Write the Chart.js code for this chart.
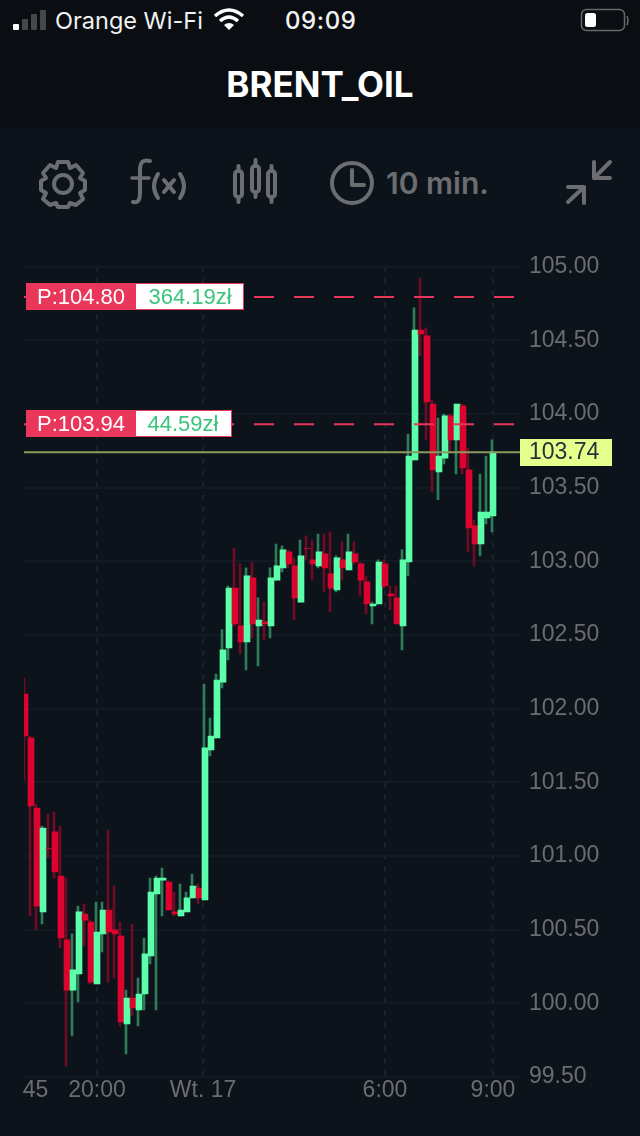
<!DOCTYPE html>
<html>
<head>
<meta charset="utf-8">
<title>BRENT_OIL</title>
<script src="https://cdn.jsdelivr.net/npm/chart.js@4/dist/chart.umd.min.js"></script>
<style>
  html, body { margin: 0; padding: 0; background: #0d131b; }
  #page { position: relative; width: 640px; height: 1136px; overflow: hidden; background: #0d131b; }
  #header { position: absolute; left: 0; top: 0; width: 640px; height: 128px; background: #0a0e12; }
  .txt { position: absolute; white-space: nowrap; font-family: Inter, "Liberation Sans", sans-serif; }
  svg { position: absolute; overflow: visible; }
  canvas { position: absolute; left: 0; top: 0; }
</style>
</head>
<body>
<div id="page">
  <div id="header"></div>

  <!-- status bar -->
  <svg style="left:0;top:0" width="640" height="40">
    <rect x="13" y="24" width="6" height="6" rx="1" fill="#fff"/>
    <rect x="22" y="19" width="6" height="11" rx="1" fill="#45484b"/>
    <rect x="31" y="14" width="6" height="16" rx="1" fill="#45484b"/>
    <rect x="40" y="10" width="6" height="20" rx="1" fill="#45484b"/>
    <path d="M215 16 Q229 4 243 16" fill="none" stroke="#fff" stroke-width="3.4"/>
    <path d="M220 21 Q229 13 238 21" fill="none" stroke="#fff" stroke-width="3.4"/>
    <path d="M224 25 L229 30 L234 25 Q229 21 224 25 Z" fill="#fff"/>
    <rect x="581.5" y="9.5" width="43" height="21" rx="5" fill="none" stroke="#66696c" stroke-width="1.5"/>
    <rect x="585" y="13" width="11" height="14" rx="2.5" fill="#fff"/>
    <path d="M627 16 Q629 20 627 25" fill="none" stroke="#66696c" stroke-width="1.5"/>
  </svg>
  <div class="txt" style="left:55px;top:6px;font-size:23.5px;line-height:30px;color:#f2f2f2">Orange Wi-Fi</div>
  <div class="txt" style="left:285px;top:6px;font-size:24px;line-height:30px;letter-spacing:0.6px;font-weight:500;color:#f2f2f2">09:09</div>
  <div class="txt" style="left:0;top:64px;width:640px;text-align:center;font-size:35px;line-height:40px;font-weight:700;color:#fff">BRENT_OIL</div>

  <!-- toolbar -->
  <svg style="left:0;top:128px" width="640" height="100" fill="none" stroke="#6b6d71" stroke-width="4" stroke-linecap="round" stroke-linejoin="round">
    <path d="M58 34 L68 34 L70 40 L76 37 L83 45 L80 50 L85 53 L85 62 L80 65 L83 71 L76 77 L70 75 L68 79 L58 79 L56 75 L50 77 L43 71 L46 65 L41 62 L41 53 L46 50 L43 45 L50 37 L56 40 Z"/>
    <circle cx="63" cy="56" r="9"/>
    <path d="M150 33 Q140 30 140 42 L140 65 Q140 76 133 74"/>
    <path d="M132 50 L149 50" stroke-width="3.5"/>
    <path d="M158 46 Q150 58 158 70"/>
    <path d="M180 46 Q188 58 180 70"/>
    <path d="M164 52 L174 64 M174 52 L164 64"/>
    <rect x="235" y="43" width="7" height="26" rx="3"/>
    <path d="M238.5 38 L238.5 43 M238.5 69 L238.5 74"/>
    <rect x="252" y="38" width="7" height="26" rx="3"/>
    <path d="M255.5 32 L255.5 38 M255.5 64 L255.5 69"/>
    <rect x="268" y="43" width="7" height="26" rx="3"/>
    <path d="M271.5 38 L271.5 43 M271.5 69 L271.5 74"/>
    <circle cx="352" cy="55" r="20"/>
    <path d="M352 42 L352 57 L364 57"/>
    <path d="M610 34 L594 50 M594 34 L594 50 L610 50"/>
    <path d="M568 74 L584 59 M568 59 L584 59 L584 75"/>
  </svg>
  <div class="txt" style="left:386px;top:165px;font-size:30px;line-height:36px;font-weight:600;color:#6b6d71">10 min.</div>

  <canvas id="chart" width="640" height="1136"></canvas>
</div>

<script>
'use strict';

// prices, one candle every 10 minutes
var opens = [
  102.099, 101.801, 101.325, 100.620, 101.05, 101.163, 100.864, 100.430, 100.090, 100.199,
  100.606, 100.552, 100.131, 100.471, 100.633, 100.498, 100.457, 99.860, 100.036, 99.955,
  100.063, 100.322, 100.742, 100.836, 100.823, 100.620, 100.593, 100.620, 100.715, 100.782,
  100.701, 101.719, 101.801, 102.180, 102.412, 102.818, 102.561, 102.452, 102.887, 102.561,
  102.588, 102.561, 102.872, 102.955, 103.063, 102.968, 102.723, 103.086, 103.009, 102.968,
  103.050, 102.914, 102.805, 103.009, 102.941, 103.050, 102.982, 102.860, 102.696, 102.710,
  102.982, 102.778, 102.751, 102.561, 102.996, 103.687, 104.569, 104.529, 104.067, 103.606,
  103.700, 103.986, 103.823, 104.054, 103.620, 103.240, 103.118, 103.294, 103.307
];
var closes = [
  101.814, 101.339, 100.660, 101.190, 101.05, 100.891, 100.443, 100.090, 100.227, 100.620,
  100.565, 100.144, 100.484, 100.633, 100.484, 100.471, 99.873, 100.036, 99.968, 100.063,
  100.335, 100.755, 100.850, 100.850, 100.633, 100.606, 100.633, 100.715, 100.796, 100.715,
  101.733, 101.814, 102.193, 102.398, 102.818, 102.574, 102.452, 102.901, 102.574, 102.601,
  102.574, 102.887, 102.968, 103.077, 102.982, 102.751, 103.036, 103.086, 102.982, 103.063,
  102.955, 102.818, 103.023, 102.955, 103.063, 102.995, 102.872, 102.710, 102.710, 102.995,
  102.832, 102.764, 102.574, 103.009, 103.714, 104.569, 104.542, 104.081, 103.620, 103.714,
  103.986, 103.823, 104.067, 103.634, 103.226, 103.118, 103.334, 103.334, 103.741
];
var highs = [
  102.207, 101.814, 101.352, 101.203, 101.285, 101.298, 101.203, 100.850, 100.471, 100.660,
  100.674, 100.565, 100.687, 100.687, 101.176, 100.796, 100.552, 100.090, 100.538, 100.171,
  100.443, 100.850, 100.864, 100.918, 100.836, 100.755, 100.809, 100.755, 100.877, 100.809,
  102.166, 101.936, 102.234, 102.534, 102.832, 103.090, 102.982, 102.955, 102.995, 102.751,
  102.723, 102.955, 103.117, 103.104, 103.077, 103.023, 103.144, 103.172, 103.144, 103.185,
  103.185, 103.199, 103.036, 103.131, 103.185, 103.131, 102.995, 102.901, 102.723, 103.009,
  103.009, 102.832, 102.832, 103.077, 103.863, 104.719, 104.922, 104.583, 104.094, 103.972,
  103.999, 103.999, 104.067, 104.067, 103.768, 103.280, 103.592, 103.714, 103.823
];
var lows = [
  101.515, 100.593, 100.498, 100.538, 100.986, 100.850, 100.376, 99.575, 99.779, 100.009,
  100.389, 100.131, 100.131, 100.349, 100.144, 100.171, 99.846, 99.657, 99.914, 99.846,
  99.955, 100.267, 99.955, 100.593, 100.633, 100.593, 100.593, 100.620, 100.715, 100.674,
  100.701, 101.679, 101.801, 102.140, 102.330, 102.561, 102.371, 102.263, 102.480, 102.290,
  102.466, 102.480, 102.872, 102.928, 102.955, 102.601, 102.723, 103.009, 102.872, 102.955,
  102.791, 102.656, 102.791, 102.872, 102.941, 102.982, 102.764, 102.642, 102.574, 102.710,
  102.818, 102.669, 102.574, 102.398, 102.901, 103.687, 104.393, 103.823, 103.471, 103.417,
  103.660, 103.741, 103.592, 103.592, 103.063, 102.969, 103.036, 103.253, 103.199
];

var timeTicks = [1.75, 12, 29.67, 60, 78];
var timeLabels = ['45', '20:00', 'Wt. 17', '6:00', '9:00'];

var orderLevels = [104.793, 103.93];
var orderLabels = ['P:104.80', 'P:103.94'];
var orderProfits = ['364.19zł', '44.59zł'];
var lastPrice = 103.74;

var GREEN = '#5cffaa';
var RED = '#dc042f';
var GREEN_WICK = '#2c7d58';
var RED_WICK = '#6d0c24';
var AXIS_TEXT = '#6b6d71';
var FONT = '"Liberation Sans", sans-serif';

var bodies = [];
var wicks = [];
var bodyColors = [];
var wickColors = [];

for (var i = 0; i < opens.length; i++) {
  var up = closes[i] > opens[i];
  bodies.push({x: i, y: [opens[i], closes[i]]});
  wicks.push({x: i, y: [lows[i], highs[i]]});
  bodyColors.push(up ? GREEN : RED);
  wickColors.push(up ? GREEN_WICK : RED_WICK);
}

function flatLine(price) {
  return [{x: -1, y: price}, {x: 83, y: price}];
}

// order tags and the last price box sit on top of the candles
var tagsPlugin = {
  id: 'tags',
  afterDraw: function (chart) {
    var c = chart.ctx;
    var y = chart.scales.y;
    var whiteWidths = [108, 96];

    c.save();
    c.textBaseline = 'middle';
    c.font = '22px ' + FONT;

    for (var t = 0; t < orderLevels.length; t++) {
      var py = Math.round(y.getPixelForValue(orderLevels[t]));
      c.fillStyle = '#e8375b';
      c.fillRect(26, py - 14, 110 + whiteWidths[t], 27);
      c.fillStyle = '#fff';
      c.fillRect(136, py - 13, whiteWidths[t] - 1, 25);
      c.textAlign = 'center';
      c.fillStyle = '#fff';
      c.fillText(orderLabels[t], 81, py + 1);
      c.fillStyle = '#3cc47c';
      c.fillText(orderProfits[t], 136 + (t === 0 ? 54 : 47), py + 1);
    }

    var ly = Math.round(y.getPixelForValue(lastPrice));
    c.fillStyle = '#e6ff8c';
    c.fillRect(520, ly - 13, 92, 27);
    c.fillStyle = '#2b3038';
    c.textAlign = 'left';
    c.font = '23px ' + FONT;
    c.fillText(lastPrice.toFixed(2), 529, ly + 1);
    c.restore();
  }
};

var ctx = document.getElementById('chart').getContext('2d');

new Chart(ctx, {
  type: 'bar',
  data: {
    datasets: [
      {
        type: 'line',
        data: flatLine(lastPrice),
        borderColor: '#8b9a5c',
        borderWidth: 2,
        pointRadius: 0,
        order: 1
      },
      {
        type: 'line',
        data: flatLine(orderLevels[0]),
        borderColor: '#e8375b',
        borderWidth: 2,
        borderDash: [20, 20],
        borderDashOffset: 5,
        pointRadius: 0,
        order: 2
      },
      {
        type: 'line',
        data: flatLine(orderLevels[1]),
        borderColor: '#e8375b',
        borderWidth: 2,
        borderDash: [20, 20],
        borderDashOffset: 5,
        pointRadius: 0,
        order: 2
      },
      {
        data: bodies,
        backgroundColor: bodyColors,
        grouped: false,
        barThickness: 6,
        maxBarThickness: 6,
        order: 3
      },
      {
        data: wicks,
        xAxisID: 'xWick',
        backgroundColor: wickColors,
        grouped: false,
        barThickness: 2,
        maxBarThickness: 2,
        order: 4
      }
    ]
  },
  options: {
    responsive: false,
    animation: false,
    events: [],
    layout: {padding: {top: 266.5, left: 24, right: 0, bottom: 0}},
    plugins: {legend: {display: false}, tooltip: {enabled: false}},
    scales: {
      x: {
        type: 'linear',
        offset: false,
        min: -1 / 6,
        max: 82.5,
        afterBuildTicks: function (scale) {
          scale.ticks = timeTicks.map(function (v) { return {value: v}; });
        },
        afterFit: function (scale) { scale.height = 59; },
        border: {display: false, dash: [5, 7]},
        grid: {
          offset: false,
          color: function (c) { return c.index === 0 ? 'transparent' : '#182230'; },
          lineWidth: 2,
          drawTicks: false
        },
        ticks: {
          autoSkip: false,
          maxRotation: 0,
          color: AXIS_TEXT,
          padding: 0,
          font: {family: FONT, size: 23},
          callback: function (value, index) { return timeLabels[index]; }
        }
      },
      xWick: {
        type: 'linear',
        display: false,
        offset: false,
        min: 0,
        max: 82 + 2 / 3
      },
      y: {
        position: 'right',
        min: 99.5,
        max: 105,
        afterFit: function (scale) { scale.width = 120; },
        border: {display: false},
        grid: {color: '#131a23', lineWidth: 2, drawTicks: false},
        ticks: {
          stepSize: 0.5,
          color: AXIS_TEXT,
          padding: 9,
          font: {family: FONT, size: 23},
          callback: function (value) { return value.toFixed(2); }
        }
      }
    }
  },
  plugins: [tagsPlugin]
});
</script>
</body>
</html>
